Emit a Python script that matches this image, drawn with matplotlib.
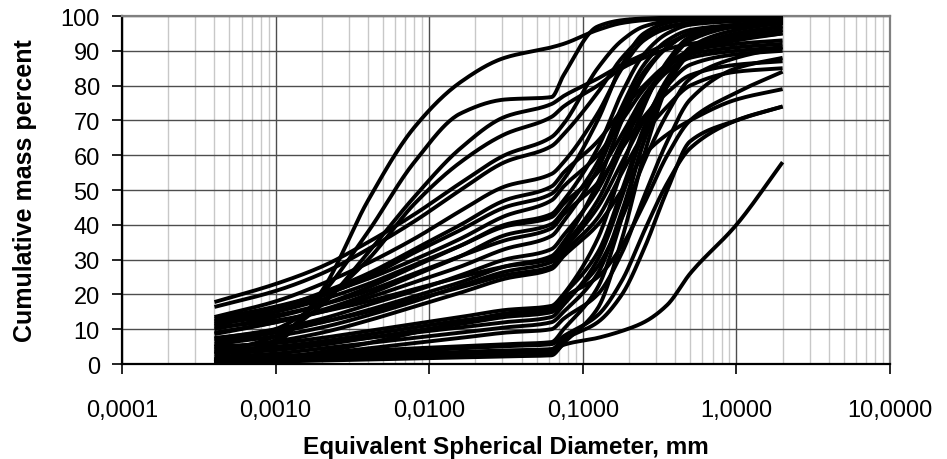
import numpy as np
import matplotlib
matplotlib.use('Agg')
import matplotlib.pyplot as plt
from matplotlib.ticker import FixedLocator, FuncFormatter, LogLocator, NullFormatter

plt.rcParams['font.family'] = ['Liberation Sans', 'DejaVu Sans']

# Grain sizes (mm): sedigraph fraction, then sieve fraction
sed_mm = [0.0004, 0.001, 0.002, 0.004, 0.008, 0.016, 0.031, 0.0625]
sieve_mm = [0.075, 0.125, 0.18, 0.25, 0.355, 0.5, 1.0, 2.0]

# Cumulative mass percent per sample, sedigraph part
sed_pct = [
    [1.0, 6.0, 21.0, 47.0, 68.0, 81.0, 88.0, 91.0],
    [0.5, 7.0, 20.0, 38.0, 58.0, 72.0, 76.0, 76.7],
    [3.0, 8.0, 17.0, 32.0, 48.0, 62.0, 71.0, 74.7],
    [5.0, 10.0, 18.0, 30.0, 46.0, 58.0, 66.0, 71.0],
    [17.8, 23.0, 28.0, 35.0, 43.0, 52.0, 60.0, 65.2],
    [16.4, 21.0, 26.0, 33.0, 41.0, 50.0, 58.0, 62.6],
    [13.5, 18.0, 23.0, 29.0, 36.0, 44.0, 51.0, 54.6],
    [12.4, 16.0, 20.5, 26.0, 33.0, 40.0, 47.0, 51.0],
    [11.0, 15.0, 19.5, 25.0, 32.0, 38.5, 45.0, 48.9],
    [10.0, 13.5, 17.0, 22.0, 28.0, 34.0, 40.0, 43.1],
    [12.0, 15.0, 18.5, 23.0, 28.5, 34.0, 39.5, 42.2],
    [8.6, 12.0, 15.5, 20.0, 25.5, 31.0, 37.0, 40.2],
    [7.2, 10.0, 13.0, 17.0, 21.0, 25.5, 30.0, 33.0],
    [10.5, 12.5, 15.0, 18.0, 21.5, 25.0, 28.0, 30.2],
    [5.7, 8.0, 10.5, 14.0, 18.0, 22.5, 26.5, 29.3],
    [4.3, 6.5, 9.0, 12.5, 16.5, 20.5, 24.5, 27.3],
    [5.0, 6.0, 7.5, 9.5, 11.5, 13.5, 15.5, 16.7],
    [2.9, 4.0, 5.5, 7.5, 9.5, 11.5, 13.5, 14.9],
    [2.0, 3.0, 4.5, 6.0, 7.5, 9.0, 10.5, 12.0],
    [1.0, 2.0, 3.0, 4.5, 6.0, 7.5, 9.0, 10.0],
    [1.5, 2.0, 2.6, 3.2, 3.8, 4.5, 5.1, 5.7],
    [0.5, 1.0, 1.5, 2.0, 2.4, 2.8, 3.1, 3.4],
    [9.0, 12.0, 15.0, 19.0, 23.5, 28.0, 33.0, 36.8],
    [6.5, 9.0, 12.0, 15.5, 19.5, 23.5, 28.0, 31.0],
    [7.5, 9.5, 12.0, 15.0, 18.5, 22.0, 25.5, 28.0],
    [3.5, 4.5, 6.0, 7.5, 9.0, 10.5, 12.0, 13.5],
    [4.0, 5.0, 6.5, 8.5, 10.5, 12.5, 14.0, 15.5],
    [1.5, 2.2, 3.0, 3.8, 4.5, 5.1, 5.7, 6.3],
    [0.8, 1.3, 1.9, 2.5, 3.0, 3.5, 3.9, 4.3],
    [0.3, 0.7, 1.0, 1.3, 1.6, 1.9, 2.2, 2.5],
    [13.0, 16.5, 20.0, 24.5, 30.0, 36.0, 42.5, 47.0],
    [11.5, 14.0, 17.0, 21.0, 26.0, 31.0, 35.5, 39.0],
    [0.8, 1.8, 3.5, 6.0, 9.0, 12.0, 14.5, 16.0],
]

# Cumulative mass percent per sample, sieve part
sieve_pct = [
    [92.0, 96.0, 98.0, 98.8, 99.2, 99.4, 99.6, 99.8],
    [83.0, 97.0, 98.8, 99.3, 99.5, 99.7, 99.8, 99.9],
    [77.0, 82.0, 86.0, 89.0, 92.0, 95.0, 97.0, 98.0],
    [74.0, 80.0, 85.0, 88.0, 90.5, 92.0, 93.5, 95.0],
    [69.0, 85.0, 93.0, 97.0, 98.5, 99.0, 99.5, 99.7],
    [66.0, 78.0, 88.0, 94.0, 97.0, 98.0, 98.8, 99.2],
    [58.0, 72.0, 85.0, 93.0, 96.5, 98.0, 99.0, 99.5],
    [55.0, 64.0, 73.0, 80.0, 86.0, 89.0, 91.0, 92.0],
    [53.0, 70.0, 86.0, 95.0, 98.0, 99.0, 99.5, 99.8],
    [47.0, 62.0, 78.0, 89.0, 95.0, 97.5, 98.5, 99.0],
    [46.0, 55.0, 66.0, 77.0, 85.0, 90.0, 93.0, 95.0],
    [44.0, 58.0, 74.0, 86.0, 93.0, 96.0, 97.5, 98.5],
    [37.0, 50.0, 64.0, 76.0, 84.0, 88.0, 90.0, 91.0],
    [34.0, 47.0, 62.0, 75.0, 86.0, 93.0, 97.0, 98.5],
    [33.0, 45.0, 58.0, 70.0, 80.0, 86.0, 89.0, 90.0],
    [31.0, 40.0, 50.0, 60.0, 66.0, 70.0, 76.0, 79.0],
    [20.0, 32.0, 50.0, 68.0, 82.0, 90.0, 95.0, 97.0],
    [18.0, 28.0, 42.0, 58.0, 72.0, 82.0, 88.0, 91.0],
    [15.0, 26.0, 44.0, 64.0, 80.0, 90.0, 95.0, 97.0],
    [13.0, 20.0, 32.0, 48.0, 64.0, 76.0, 85.0, 88.0],
    [8.0, 14.0, 24.0, 38.0, 52.0, 62.0, 70.0, 74.0],
    [5.5, 7.5, 9.5, 12.0, 17.0, 26.0, 40.0, 58.0],
    [41.0, 56.0, 72.0, 84.0, 91.0, 95.0, 97.0, 98.0],
    [35.0, 52.0, 70.0, 83.0, 91.0, 95.0, 97.5, 98.5],
    [32.0, 42.0, 55.0, 66.0, 74.0, 80.0, 84.0, 85.0],
    [17.0, 30.0, 48.0, 67.0, 81.0, 89.0, 94.0, 96.0],
    [19.0, 25.0, 34.0, 46.0, 60.0, 70.0, 78.0, 84.0],
    [10.0, 22.0, 42.0, 64.0, 80.0, 89.0, 94.0, 96.0],
    [7.0, 12.0, 20.0, 33.0, 50.0, 64.0, 70.0, 74.0],
    [6.0, 16.0, 36.0, 60.0, 80.0, 91.0, 96.0, 98.0],
    [51.0, 60.0, 70.0, 79.0, 86.0, 90.0, 92.0, 93.0],
    [43.0, 52.0, 62.0, 71.0, 78.0, 83.0, 86.0, 87.0],
    [20.0, 36.0, 56.0, 74.0, 87.0, 94.0, 97.0, 98.0],
]


def smooth(xs, ys, n=25):
    # monotone cubic through the points, in log-x space (like a smoothed line)
    u = np.log10(xs)
    y = np.asarray(ys, float)
    h = np.diff(u)
    d = np.diff(y) / h
    m = np.zeros_like(y)
    m[0], m[-1] = d[0], d[-1]
    for k in range(1, len(y) - 1):
        if d[k - 1] * d[k] > 0:
            w1 = 2 * h[k] + h[k - 1]
            w2 = h[k] + 2 * h[k - 1]
            m[k] = (w1 + w2) / (w1 / d[k - 1] + w2 / d[k])
    uu, yy = [], []
    for k in range(len(y) - 1):
        t = np.linspace(0, 1, n, endpoint=False)
        h00 = 2 * t**3 - 3 * t**2 + 1
        h10 = t**3 - 2 * t**2 + t
        h01 = -2 * t**3 + 3 * t**2
        h11 = t**3 - t**2
        uu.append(u[k] + t * h[k])
        yy.append(h00 * y[k] + h10 * h[k] * m[k] + h01 * y[k + 1] + h11 * h[k] * m[k + 1])
    uu.append([u[-1]])
    yy.append([y[-1]])
    return 10 ** np.concatenate(uu), np.concatenate(yy)


fig = plt.figure(figsize=(9.47, 4.60), dpi=100)
ax = fig.add_axes([0.1288, 0.2065, 0.811, 0.7565])

sizes = sed_mm + sieve_mm
for a, b in zip(sed_pct, sieve_pct):
    xs, ys = smooth(sizes, a + b)
    ax.plot(xs, ys, color='black', lw=2.8, solid_capstyle='butt', zorder=3)

ax.set_xscale('log')
ax.set_xlim(0.0001, 10)
ax.set_ylim(0, 100)

ax.xaxis.set_major_locator(FixedLocator([0.0001, 0.001, 0.01, 0.1, 1, 10]))
ax.xaxis.set_minor_locator(LogLocator(base=10, subs=np.arange(2, 10), numticks=20))
ax.xaxis.set_major_formatter(FuncFormatter(lambda v, p: f'{v:.4f}'.replace('.', ',')))
ax.xaxis.set_minor_formatter(NullFormatter())
ax.set_yticks(np.arange(0, 101, 10))

ax.grid(which='major', axis='both', color='#4d4d4d', lw=1.0, zorder=1)
ax.grid(which='minor', axis='x', color='#c8c8c8', lw=1.0, zorder=0)
ax.set_axisbelow(True)

ax.tick_params(axis='x', which='major', direction='out', length=7, width=1.2,
               labelsize=17, pad=18, color='black')
ax.tick_params(axis='x', which='minor', length=0)
ax.tick_params(axis='y', which='major', direction='out', length=7, width=1.2,
               labelsize=17, pad=9, color='black')

for side in ['left', 'bottom']:
    ax.spines[side].set_color('black')
    ax.spines[side].set_linewidth(1.6)
for side in ['top', 'right']:
    ax.spines[side].set_color('#808080')
    ax.spines[side].set_linewidth(1.6)

ax.set_xlabel('Equivalent Spherical Diameter, mm', fontsize=17.5, fontweight='bold')
ax.set_ylabel('Cumulative mass percent', fontsize=18, fontweight='bold')
ax.xaxis.set_label_coords(0.5, -0.236)
ax.xaxis.label.set_va('center')
ax.yaxis.set_label_coords(-0.126, 0.5)
ax.yaxis.label.set_va('center')

fig.savefig('out.png', dpi=100)
